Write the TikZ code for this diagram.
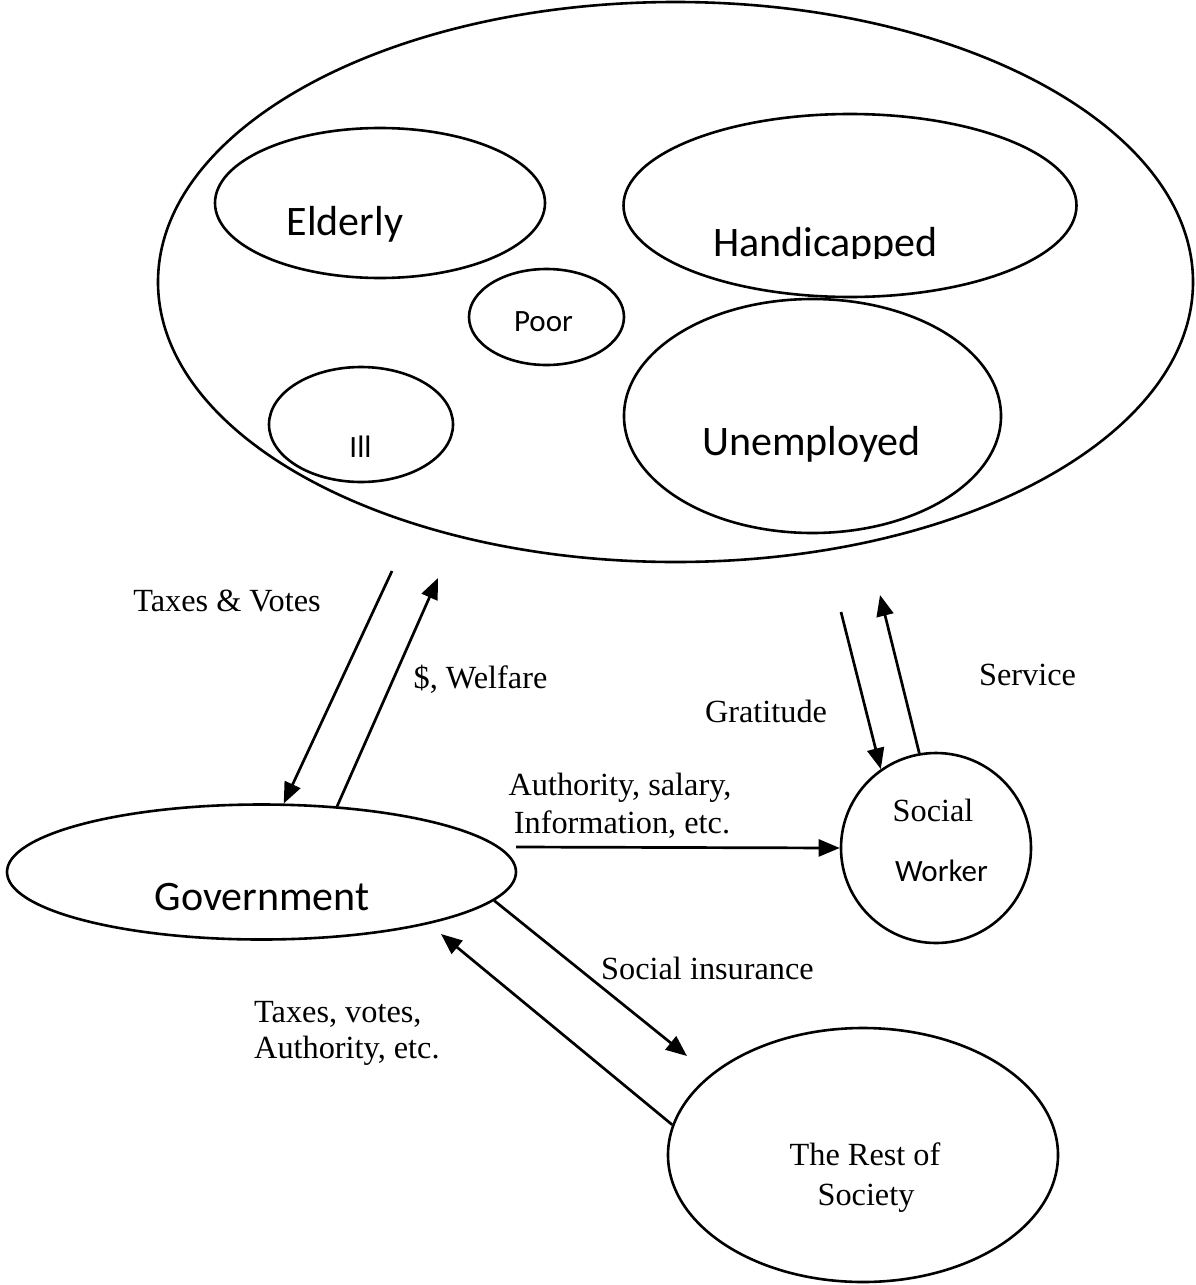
\documentclass[tikz,border=0pt]{standalone}
\usepackage{fontspec}
\setmainfont{Liberation Serif}
\newfontfamily\calib{Carlito}
\usetikzlibrary{shapes.geometric,arrows.meta}
\begin{document}
\begin{tikzpicture}[x=1pt,y=-1pt,
  shp/.style={draw, ellipse, line width=2.6pt, inner sep=0pt},
  arr/.style={line width=2.7pt, -{Triangle[length=21pt,width=17pt]}},
  ser/.style={font=\fontsize{32.3}{38}\selectfont, inner sep=0pt, anchor=base},
  serw/.style={font=\fontsize{32.3}{38}\selectfont, inner sep=0pt, anchor=base west},
  sans/.style={font=\calib\fontsize{42}{48}\selectfont, inner sep=0pt, anchor=base},
  sanss/.style={font=\calib\fontsize{31}{36}\selectfont, inner sep=0pt, anchor=base},
]
\useasboundingbox (0,0) rectangle (1195,1285);

% shapes
\node[shp, minimum width=1035pt, minimum height=560pt] (world) at (675.5,282) {};
\node[shp, minimum width=330pt, minimum height=150pt] (eld) at (380,203) {};
\node[shp, minimum width=155pt, minimum height=96pt] (poor) at (546.5,317) {};
\node[shp, minimum width=184pt, minimum height=115pt] (ill) at (361,424.5) {};
\node[shp, minimum width=453pt, minimum height=183pt] (hand) at (850,205.5) {};
\node[shp, minimum width=377pt, minimum height=234pt] (unemp) at (812.5,416) {};
\node[shp, minimum width=509pt, minimum height=135pt] (gov) at (261.5,872) {};
\node[shp, minimum width=190pt, minimum height=190pt] (sw) at (936,848) {};
\node[shp, minimum width=390pt, minimum height=254pt] (rest) at (863,1155) {};

% texts in shapes
\node[sans] (tEld) at (345,235) {Elderly};
\begin{scope}
  \clip (600,100) rectangle (1100,258);
  \node[sans] (tHand) at (825.5,256) {Handicapped};
\end{scope}
\node[sanss] (tPoor) at (543.5,331) {Poor};
\node[sanss] (tIll) at (360.5,457) {Ill};
\node[sans] (tUnemp) at (811.5,455) {Unemployed};
\node[sans] (tGov) at (262,910) {Government};
\node[ser] (tSocial) at (933,821) {Social};
\node[sanss] (tWorker) at (941.5,881) {Worker};
\node[ser] (tRest1) at (865,1165) {The Rest of};
\node[ser] (tRest2) at (866,1205) {Society};

% free ends of connectors
\coordinate (tvA) at (392,571);
\coordinate (welB) at (438,578);
\coordinate (grA) at (841,612);
\coordinate (svB) at (880,595);
\coordinate (auA) at (516,847);
\coordinate (siB) at (687,1056);
\coordinate (tvB) at (441,934);

% connectors
\draw[arr] (tvA) -- (gov.72);
\draw[arr] (gov.41.5) -- (welB);
\draw[arr] (grA) -- (sw.125);
\draw[arr] (sw.100.7) -- (svB);
\draw[arr] (auA) -- (sw.west);
\draw[arr] (gov.-7) -- (siB);
\draw[arr] (rest.171) -- (tvB);

% connector labels
\node[ser] (lTV) at (227,611) {Taxes \& Votes};
\node[ser] (lWel) at (480.5,688) {\$, Welfare};
\node[ser] (lGrat) at (766,722) {Gratitude};
\node[ser] (lServ) at (1027.5,685) {Service};
\node[ser] (lAu1) at (620,795) {Authority, salary,};
\node[ser] (lAu2) at (622,833) {Information, etc.};
\node[ser] (lSI) at (707.5,979) {Social insurance};
\node[serw] (lTV2a) at (254,1022) {Taxes, votes,};
\node[serw] (lTV2b) at (254,1058) {Authority, etc.};
\end{tikzpicture}
\end{document}
